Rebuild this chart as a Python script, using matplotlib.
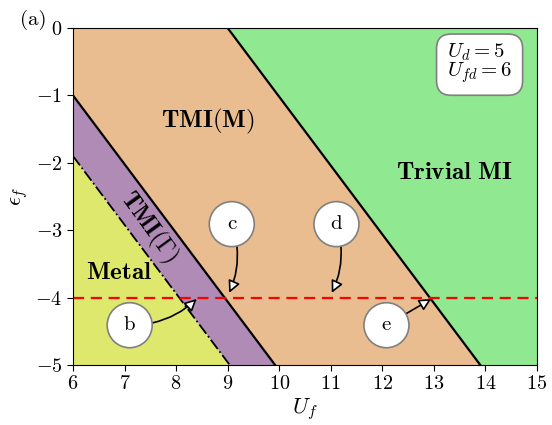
import numpy as np
import matplotlib
matplotlib.use("Agg")
import matplotlib.pyplot as plt

plt.rcParams['font.family'] = 'serif'
plt.rcParams['font.serif'] = ['cmr10']
plt.rcParams['mathtext.fontset'] = 'cm'
plt.rcParams['axes.formatter.use_mathtext'] = True

# Phase boundaries (U_f, eps_f)
metal_uf = [6.0, 9.04]
metal_eps = [-1.9, -5.0]
gamma_uf = [6.0, 9.92]
gamma_eps = [-1.0, -5.0]
trivial_uf = [9.0, 13.9]
trivial_eps = [0.0, -5.0]
cut_eps = -4.0

xlim = (6, 15)
ylim = (-5, 0)
xticks = [6, 7, 8, 9, 10, 11, 12, 13, 14, 15]
yticks = [-5, -4, -3, -2, -1, 0]

c_metal = '#DEE86C'
c_gamma = '#B08BB6'
c_tmim = '#E9BD8F'
c_triv = '#90E890'

fig = plt.figure(figsize=(5.52, 4.25), dpi=100)
ax = fig.add_axes([0.1322, 0.1412, 0.8406, 0.7929])

x0, x1 = xlim
y0, y1 = ylim
ax.fill([x0, metal_uf[0], metal_uf[1]], [y0, metal_eps[0], metal_eps[1]], color=c_metal, lw=0)
ax.fill([metal_uf[0], gamma_uf[0], gamma_uf[1], metal_uf[1]],
        [metal_eps[0], gamma_eps[0], gamma_eps[1], metal_eps[1]], color=c_gamma, lw=0)
ax.fill([gamma_uf[0], x0, trivial_uf[0], trivial_uf[1], gamma_uf[1]],
        [gamma_eps[0], y1, trivial_eps[0], trivial_eps[1], gamma_eps[1]], color=c_tmim, lw=0)
ax.fill([trivial_uf[0], x1, x1, trivial_uf[1]],
        [trivial_eps[0], y1, y0, trivial_eps[1]], color=c_triv, lw=0)

ax.plot(metal_uf, metal_eps, color='black', lw=1.3, ls='-.')
ax.plot(gamma_uf, gamma_eps, color='black', lw=1.6)
ax.plot(trivial_uf, trivial_eps, color='black', lw=1.6)
ax.axhline(cut_eps, color='red', lw=1.6, ls=(0, (5, 3)))

ax.set_xlim(xlim)
ax.set_ylim(ylim)
ax.set_xticks(xticks)
ax.set_yticks(yticks)
ax.tick_params(labelsize=14.5, direction='out', length=4)
ax.set_xlabel(r'$U_f$', fontsize=16, labelpad=2)
ax.set_ylabel(r'$\epsilon_f$', fontsize=16, labelpad=4)

ax.text(8.62, -1.39, r'$\mathbf{TMI}(\mathbf{M})$', fontsize=18, ha='center', va='center')
ax.text(13.4, -2.15, r'$\mathbf{Trivial\ MI}$', fontsize=18, ha='center', va='center')
ax.text(6.9, -3.63, r'$\mathbf{Metal}$', fontsize=18, ha='center', va='center')
ax.text(7.47, -2.95, r'$\mathbf{TMI}(\mathbf{\Gamma})$', fontsize=17, ha='center', va='center',
        rotation=-54, rotation_mode='anchor')

ax.text(0.806, 0.96, r'$U_d=5$' + '\n' + r'$U_{fd}=6$', transform=ax.transAxes,
        ha='left', va='top', fontsize=15, linespacing=0.82, multialignment='left',
        bbox=dict(boxstyle='round,pad=0.5,rounding_size=0.7', fc='white', ec='gray', lw=1.2))

fig.text(0.06, 0.952, '(a)', fontsize=15, ha='center', va='center')

labels = ['b', 'c', 'd', 'e']
label_pos = [(7.1, -4.41), (9.08, -2.91), (11.11, -2.91), (12.08, -4.41)]
arrow_tip = [(8.4, -4.02), (9.03, -3.93), (11.02, -3.93), (12.95, -4.02)]
rads = [0.2, -0.2, -0.2, 0.0]
for lab, (tx, ty), (px, py), r in zip(labels, label_pos, arrow_tip, rads):
    ax.annotate(lab, xy=(px, py), xytext=(tx, ty), fontsize=15, ha='center', va='center',
                bbox=dict(boxstyle='circle,pad=0.65', fc='white', ec='gray', lw=1.2),
                arrowprops=dict(arrowstyle='-|>', fc='white', ec='black', lw=1.2,
                                connectionstyle=f'arc3,rad={r}', shrinkA=0, shrinkB=0,
                                mutation_scale=18))

fig.savefig('out.png', dpi=100)
